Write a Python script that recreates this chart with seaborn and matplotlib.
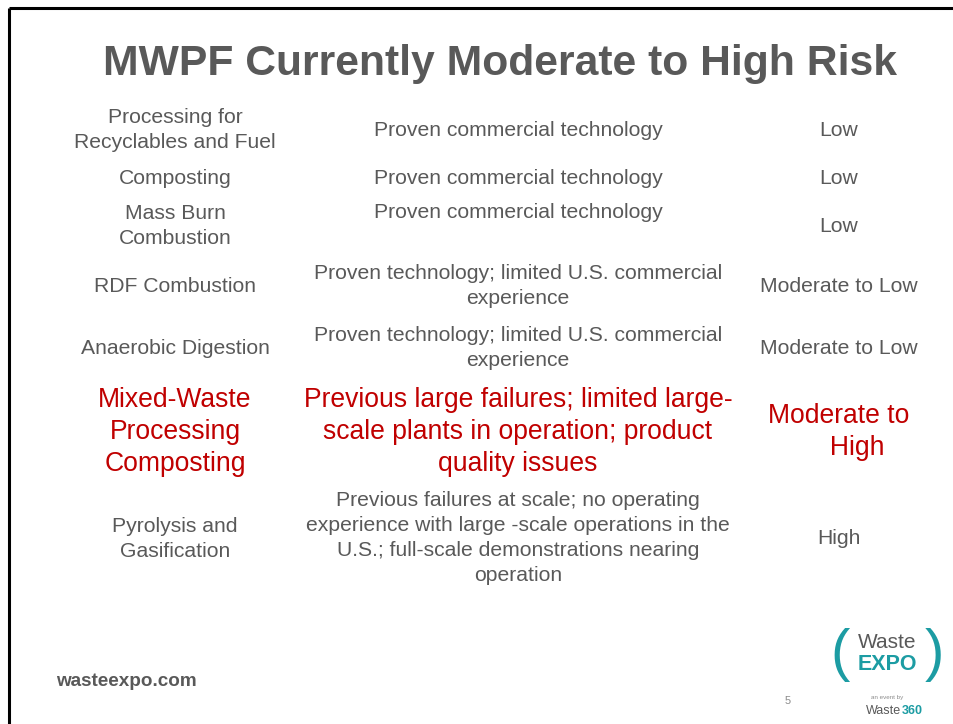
import matplotlib
matplotlib.use("Agg")
import matplotlib.pyplot as plt
import seaborn as sns

sns.set_theme(style="white")
plt.rcParams['font.family'] = ['Liberation Sans', 'DejaVu Sans']

#############################################################################
# table contents
#############################################################################

title = "MWPF Currently Moderate to High Risk"

technology = ["Processing for\nRecyclables and Fuel",
              "Composting",
              "Mass Burn\nCombustion",
              "RDF Combustion",
              "Anaerobic Digestion",
              "Mixed-Waste\nProcessing\nComposting",
              "Pyrolysis and\nGasification"]

status = ["Proven commercial technology",
          "Proven commercial technology",
          "Proven commercial technology",
          "Proven technology; limited U.S. commercial\nexperience",
          "Proven technology; limited U.S. commercial\nexperience",
          "Previous large failures; limited large-\nscale plants in operation; product\nquality issues",
          "Previous failures at scale; no operating\nexperience with large -scale operations in the\nU.S.; full-scale demonstrations nearing\noperation"]

risk = ["Low", "Low", "Low", "Moderate to Low", "Moderate to Low",
        "Moderate to\n     High", "High"]

highlight = [False, False, False, False, False, True, False]

#############################################################################
# layout
#############################################################################

gray = "#595959"
red = "#C00000"
teal = "#1C9CA3"

row_y = [130, 178, 226, 286, 348, 432, 539]
status_y = [130, 178, 213, 286, 348, 432, 538]
col_x = [175, 518, 839]

fig = plt.figure(figsize=(9.54, 7.24), dpi=100)
ax = fig.add_axes([0, 0, 1, 1])
ax.set_xlim(0, 954)
ax.set_ylim(724, 0)
ax.axis("off")

# slide frame (top and left edge)
ax.plot([9, 954], [8, 8], color="black", lw=2.2, solid_capstyle="butt")
ax.plot([9, 9], [8, 724], color="black", lw=2.2, solid_capstyle="butt")

ax.text(500, 64, title, ha="center", va="center", fontsize=30.7,
        fontweight="bold", color=gray)

for i in range(len(technology)):
    c = red if highlight[i] else gray
    fs = 19.1 if highlight[i] else 15.2
    ls = 1.3 if highlight[i] else 1.38
    ax.text(col_x[0], row_y[i], technology[i], ha="center", va="center",
            multialignment="center", fontsize=fs, color=c, linespacing=ls)
    ax.text(col_x[1], status_y[i], status[i], ha="center", va="center",
            multialignment="center", fontsize=fs, color=c, linespacing=ls)
    ax.text(col_x[2], row_y[i], risk[i], ha="center", va="center",
            multialignment="center", fontsize=fs, color=c, linespacing=ls)

# footer
ax.text(56, 681, "wasteexpo.com", ha="left", va="center", fontsize=13.6,
        fontweight="bold", color=gray)
ax.text(788, 701, "5", ha="center", va="center", fontsize=8, color="#8c8c8c")

# logo
ax.text(840, 655, "(", ha="center", va="center", fontsize=42, color=teal,
        fontweight="light")
ax.text(934, 655, ")", ha="center", va="center", fontsize=42, color=teal,
        fontweight="light")
ax.text(887, 643, "Waste", ha="center", va="center", fontsize=15, color=gray)
ax.text(887, 665, "EXPO", ha="center", va="center", fontsize=15.5, color=teal,
        fontweight="bold")
ax.text(887, 698, "an event by", ha="center", va="center", fontsize=4.5,
        color="#8c8c8c")
ax.text(901, 711, "Waste", ha="right", va="center", fontsize=9, color=gray)
ax.text(902, 711, "360", ha="left", va="center", fontsize=9, color=teal,
        fontweight="bold")

fig.savefig("out.png", dpi=100, facecolor="white")
